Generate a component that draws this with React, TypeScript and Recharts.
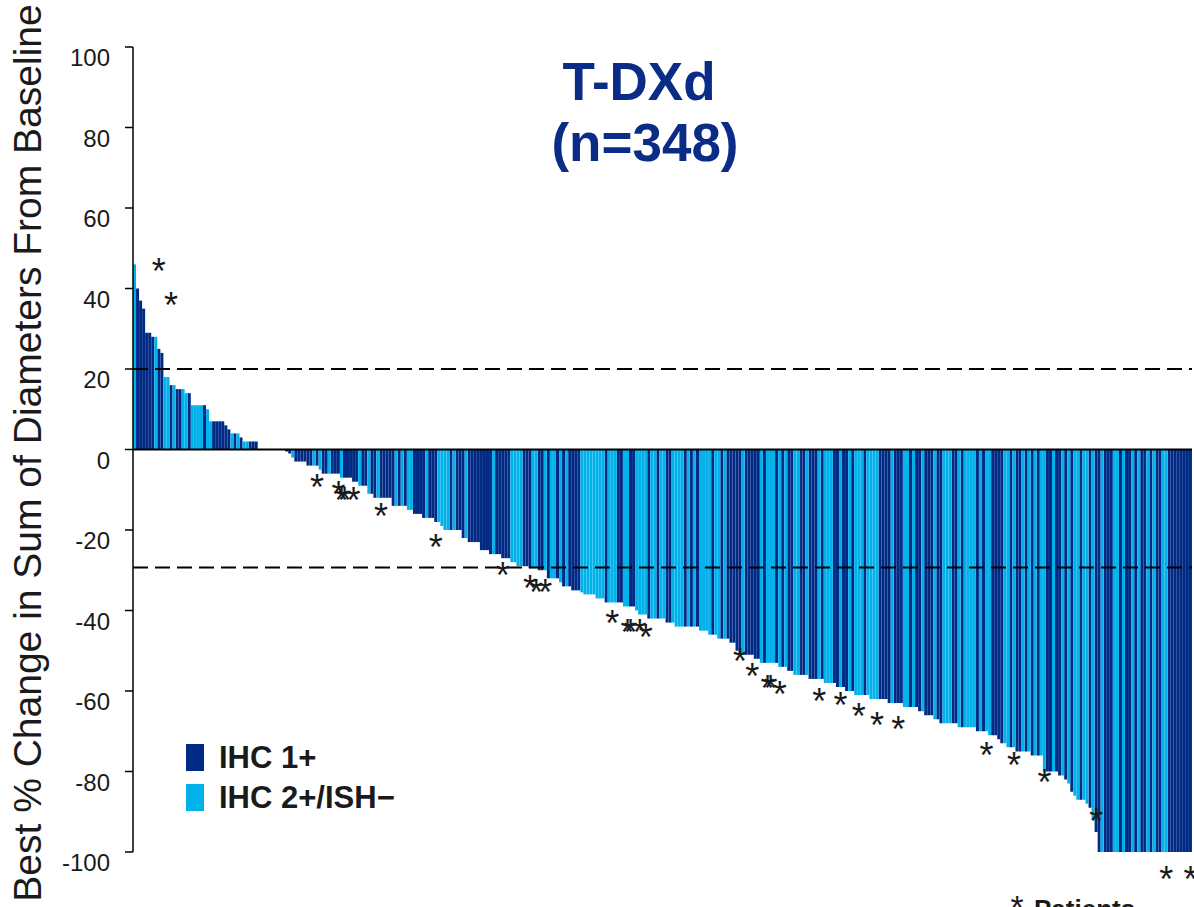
import {
  Bar,
  ComposedChart,
  Legend,
  ReferenceDot,
  ReferenceLine,
  XAxis,
  YAxis,
} from "recharts";

// Waterfall: best % change from baseline, T-DXd arm (n=348)

const FONT = '"Liberation Sans", Arial, sans-serif';
const DARK = "#002a84"; // IHC 1+
const LIGHT = "#00b1ea"; // IHC 2+/ISH-
const TITLE_BLUE = "#0b2c86";
const INK = "#1a1a1a";

// one value per patient, sorted high -> low
const BEST_CHANGE = [
  46, 40, 37, 35, 29, 29, 28, 28, 25, 24,
  18, 18, 16, 16, 15, 15, 15, 14, 14, 11,
  11, 11, 11, 11, 10, 7, 7, 7, 7, 7,
  6, 5, 4, 4, 4, 3, 2, 2, 2, 2,
  2, 0, 0, 0, 0, 0, 0, 0, 0, 0,
  -0.5, -1, -2, -3, -3, -3, -3, -4, -4, -4,
  -4, -5, -6, -6, -6, -6, -6, -6, -7, -7,
  -7, -7, -8, -8, -9, -9, -9, -11, -11, -12,
  -12, -12, -12, -12, -12, -14, -14, -14, -14, -14,
  -15, -15, -16, -16, -16, -17, -17, -17, -17, -18,
  -18, -19, -20, -20, -20, -20, -20, -20, -22, -22,
  -23, -23, -23, -23, -25, -25, -25, -26, -26, -26,
  -26, -27, -27, -27, -28, -28, -29, -29, -29, -29,
  -29.5, -29.5, -29.5, -30, -30, -30, -32, -32, -32, -32,
  -33, -34, -34, -34, -35, -35, -35, -35.5, -36, -36,
  -36, -36, -37, -37, -37, -38, -38, -38, -38, -38,
  -38, -39, -39, -39, -39, -40, -41, -41, -41, -42,
  -42, -42, -42, -42, -42, -43, -43, -43, -44, -44,
  -44, -44, -44, -44, -44, -44, -45, -45, -45, -46,
  -46, -46, -47, -47, -47, -47, -48, -48, -50, -51,
  -51, -51, -51, -51, -52, -52, -53, -53, -53, -53,
  -53, -53, -54, -54, -54, -55, -55, -56, -56, -56,
  -56, -56, -57, -57, -57, -57, -57, -58, -58, -58,
  -58, -59, -59, -59, -60, -60, -60, -61, -61, -61,
  -61, -61, -62, -62, -62, -62, -62, -62, -63, -63,
  -63, -63, -63, -64, -64, -64, -64, -64, -65, -65,
  -66, -66, -66, -67, -67, -68, -68, -68, -68, -68,
  -68, -69, -69, -69, -69, -69, -69, -70, -70, -70,
  -70, -71, -71, -71, -72, -73, -73, -74, -74, -74,
  -75, -75, -75, -75, -75, -76, -76, -76, -76, -80,
  -80, -80, -80, -80, -81, -81, -82, -83, -85, -86,
  -87, -87, -87, -88, -89, -92, -95, -100, -100, -100,
  -100, -100, -100, -100, -100, -100, -100, -100, -100, -100,
  -100, -100, -100, -100, -100, -100, -100, -100, -100, -100,
  -100, -100, -100, -100, -100, -100, -100, -100,
];

// D = IHC 1+, L = IHC 2+/ISH-, same order as BEST_CHANGE
const SUBTYPE = [
  "LDDDDDDLDD", "LLDLDDLLDL", "LLLDLLDDDD", "DDLDLDLLDD", "DDDDDDDDDD",
  "DDLDDDDDDL", "DLDDLDDDLD", "DDDDLDDLDD", "LDDDDDLDLD", "LLDDDDLDDD",
  "LLLLDLDDDL", "DDDDDDDDLD", "DDDDLLLLDD", "DLLDDLDLLD", "LDLDDDDLLL",
  "LLLLLDLLLD", "DLLDDLLLLD", "LLDLLDDLLL", "LDLDLDLLLL", "DLLDLDDDDD",
  "LDDDDDLDLL", "LDLDLDDLLD", "DLDDDLDLLL", "DDLDDLDLLL", "DLLLLDDDDL",
  "DDDLLDLDDL", "DDDLDDLLLD", "DLDLLLLDLD", "LLDDDDLLDL", "DDLDLDLDLL",
  "DDLDDLDLDL", "LDLLDLDDLD", "DDLLDLDDLD", "LDDLDLDDLL", "DDDDDDDD",
].join("");

// asterisk marks: bar index + level where the * sits
const STAR_BARS = [
  8, 12, 60, 67, 68, 69, 72, 81, 99, 121, 130, 132, 135, 157, 162, 163, 166,
  168, 199, 203, 208, 209, 212, 225, 232, 238, 244, 251, 280, 289, 299, 316,
  339, 347,
];
const STAR_LEVELS = [
  46.4, 38, -7.3, -9.1, -10.6, -10.6, -10.6, -14.6, -22.3, -29.2, -32.5,
  -33.5, -33.5, -41.2, -43.3, -43.3, -43.3, -44.5, -50.6, -54.2, -57.3, -57.3,
  -58.8, -60.6, -61.6, -64.2, -66.5, -67.5, -74, -76.4, -80.7, -90.4, -104.6,
  -104.6,
];

const Y_TICKS = [100, 80, 60, 40, 20, 0, -20, -40, -60, -80, -100];
const THRESHOLDS = [20, -29.3];

const rows = BEST_CHANGE.map((v, i) => ({
  idx: i,
  ihc1: SUBTYPE[i] === "D" ? v : 0,
  ihc2: SUBTYPE[i] === "L" ? v : 0,
}));

function YTick({ x, y, payload }: any) {
  return (
    <text
      x={x}
      y={y}
      dy={19}
      textAnchor="end"
      fontSize={24}
      fontFamily={FONT}
      fill={INK}
    >
      {payload.value}
    </text>
  );
}

function YLabel() {
  return (
    <text
      x={41}
      y={453}
      transform="rotate(-90, 41, 453)"
      textAnchor="middle"
      fontSize={39}
      fontFamily={FONT}
      fill={INK}
    >
      Best % Change in Sum of Diameters From Baseline
    </text>
  );
}

function StarMark(props: any) {
  return (
    <text
      x={props.cx}
      y={props.cy}
      dy={21}
      textAnchor="middle"
      fontSize={36}
      fontFamily={FONT}
      fill={INK}
    >
      *
    </text>
  );
}

function LegendBox({ payload }: any) {
  return (
    <div style={{ fontFamily: FONT, fontWeight: 700, fontSize: 31, color: INK }}>
      {(payload || []).map((item: any) => (
        <div key={item.value} style={{ display: "flex", height: 40 }}>
          <span
            style={{ width: 18, height: 27, background: item.color, marginRight: 15 }}
          />
          <span style={{ lineHeight: "27px", whiteSpace: "nowrap" }}>{item.value}</span>
        </div>
      ))}
    </div>
  );
}

export default function App() {
  return (
    <div style={{ position: "relative", width: 1194, height: 907, overflow: "hidden" }}>
      <style>{`body{margin:0;overflow:hidden;background:#fff}`}</style>
      <ComposedChart
        width={1194}
        height={907}
        data={rows}
        margin={{ top: 47, right: 2, left: 0, bottom: 55 }}
        barCategoryGap={0}
        barGap={0}
      >
        <XAxis dataKey="idx" type="category" hide />
        <YAxis
          type="number"
          domain={[-100, 100]}
          ticks={Y_TICKS}
          interval={0}
          width={133}
          tickSize={8}
          tickMargin={15}
          tick={<YTick />}
          axisLine={{ stroke: "#000", strokeWidth: 1.5 }}
          tickLine={{ stroke: "#000", strokeWidth: 1.5 }}
          label={<YLabel />}
        />
        <Legend
          layout="vertical"
          align="center"
          verticalAlign="middle"
          content={<LegendBox />}
          wrapperStyle={{ left: 186, top: 744, width: 360 }}
        />
        {STAR_BARS.map((b, k) => (
          <ReferenceDot
            key={k}
            x={b}
            y={STAR_LEVELS[k]}
            r={0}
            ifOverflow="visible"
            shape={<StarMark />}
          />
        ))}
        <Bar dataKey="ihc1" name="IHC 1+" stackId="p" fill={DARK} isAnimationActive={false} />
        <Bar
          dataKey="ihc2"
          name="IHC 2+/ISH−"
          stackId="p"
          fill={LIGHT}
          isAnimationActive={false}
        />
        {THRESHOLDS.map((t) => (
          <ReferenceLine
            key={t}
            y={t}
            stroke="#000"
            strokeWidth={2}
            strokeDasharray="15 7"
          />
        ))}
        <ReferenceLine y={0} stroke="#000" strokeWidth={2} />
      </ComposedChart>
      <svg
        width={1194}
        height={907}
        style={{ position: "absolute", left: 0, top: 0, pointerEvents: "none" }}
      >
        <g fontFamily={FONT} fontWeight={700} fill={TITLE_BLUE} fontSize={53} textAnchor="middle">
          <text x={639} y={100}>T-DXd</text>
          <text x={645} y={161}>(n=348)</text>
        </g>
        <text x={1017} y={919} textAnchor="middle" fontSize={34} fontFamily={FONT} fill={INK}>
          *
        </text>
        <text x={1034} y={918} fontSize={26} fontWeight={700} fontFamily={FONT} fill={INK}>
          Patients
        </text>
      </svg>
    </div>
  );
}
